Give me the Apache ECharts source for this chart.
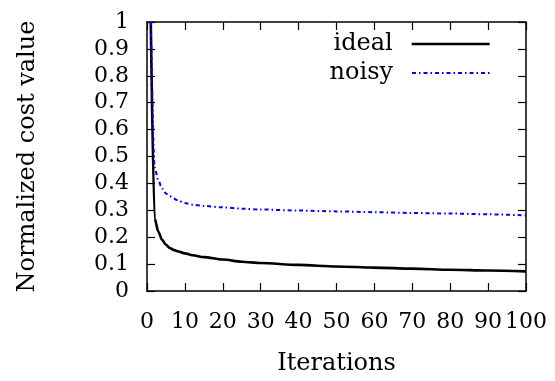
<!DOCTYPE html>
<html>
<head>
<meta charset="utf-8">
<script src="https://cdn.jsdelivr.net/npm/echarts@6/dist/echarts.min.js"></script>
<style>
  html, body { margin: 0; padding: 0; background: #fff; }
  #chart { width: 555px; height: 381px; }
</style>
</head>
<body>
<div id="chart"></div>
<script>
// Iteration numbers at which the cost was recorded
const iterations = [1, 2, 3, 4, 5, 6, 7, 8, 10, 12, 15, 20, 25, 30, 40, 50, 60, 70, 80, 90, 100];
// Normalized cost, noise-free run
const ideal = [1.0, 0.27, 0.22, 0.19, 0.172, 0.160, 0.153, 0.148, 0.140, 0.133, 0.126, 0.117, 0.109, 0.104, 0.097, 0.091, 0.087, 0.083, 0.079, 0.076, 0.073];
// Normalized cost, noisy run
const noisy = [1.0, 0.46, 0.41, 0.38, 0.362, 0.352, 0.344, 0.338, 0.327, 0.321, 0.316, 0.311, 0.306, 0.303, 0.299, 0.296, 0.293, 0.290, 0.288, 0.285, 0.281];
// Axis ranges and tick steps
const xTicks = { min: 0, max: 100, step: 10 };
const yTicks = { min: 0, max: 1, step: 0.1 };

const font = 'DejaVu Serif';
const pairs = (ys) => iterations.map((x, i) => [x, ys[i]]);

const frameLine = { show: true, onZero: false, lineStyle: { color: '#000', width: 1.5 } };
const innerTick = { show: true, inside: true, length: 8, lineStyle: { color: '#000', width: 1.2 } };

// One legend block per key so both keys line up on their right edge
const legendItem = (name, top) => ({
  data: [name], right: 64, top: top, align: 'right', orient: 'vertical',
  itemWidth: 78, itemHeight: 14, padding: 0,
  itemStyle: { color: 'rgba(0,0,0,0)', borderWidth: 0, opacity: 0 },
  lineStyle: { width: 'inherit' },
  textStyle: { fontFamily: font, fontSize: 24, color: '#000', padding: [0, 14, 0, 0] }
});

const chart = echarts.init(document.getElementById('chart'), null, { renderer: 'canvas' });
chart.setOption({
  animation: false,
  backgroundColor: '#fff',
  grid: { left: 147, right: 29, top: 22, bottom: 86, containLabel: false },
  xAxis: [
    {
      type: 'value', min: xTicks.min, max: xTicks.max, interval: xTicks.step,
      position: 'bottom',
      name: 'Iterations', nameLocation: 'middle', nameGap: 61,
      nameTextStyle: { fontFamily: font, fontSize: 24, color: '#000' },
      axisLine: frameLine, axisTick: innerTick, splitLine: { show: false },
      axisLabel: { fontFamily: font, fontSize: 22, color: '#000', margin: 20 }
    },
    {
      type: 'value', min: xTicks.min, max: xTicks.max, interval: xTicks.step,
      position: 'top',
      axisLine: frameLine, axisTick: innerTick, splitLine: { show: false },
      axisLabel: { show: false }
    }
  ],
  yAxis: [
    {
      type: 'value', min: yTicks.min, max: yTicks.max, interval: yTicks.step,
      position: 'left',
      name: 'Normalized cost value', nameLocation: 'middle', nameGap: 107, nameRotate: 90,
      nameTextStyle: { fontFamily: font, fontSize: 24, color: '#000' },
      axisLine: frameLine, axisTick: innerTick, splitLine: { show: false },
      axisLabel: { fontFamily: font, fontSize: 22, color: '#000', margin: 18 }
    },
    {
      type: 'value', min: yTicks.min, max: yTicks.max, interval: yTicks.step,
      position: 'right',
      axisLine: frameLine, axisTick: innerTick, splitLine: { show: false },
      axisLabel: { show: false }
    }
  ],
  legend: [legendItem('ideal', 32), legendItem('noisy', 61)],
  series: [
    {
      name: 'ideal', type: 'line', data: pairs(ideal),
      showSymbol: false, symbol: 'none', smooth: 0.3, smoothMonotone: 'x',
      itemStyle: { color: '#000' },
      lineStyle: { color: '#000', width: 2.6 }
    },
    {
      name: 'noisy', type: 'line', data: pairs(noisy),
      showSymbol: false, symbol: 'none', smooth: 0.3, smoothMonotone: 'x',
      itemStyle: { color: '#0000ff' },
      lineStyle: { color: '#0000ff', width: 2, type: [4, 3, 1.5, 3] }
    }
  ]
});
</script>
</body>
</html>
